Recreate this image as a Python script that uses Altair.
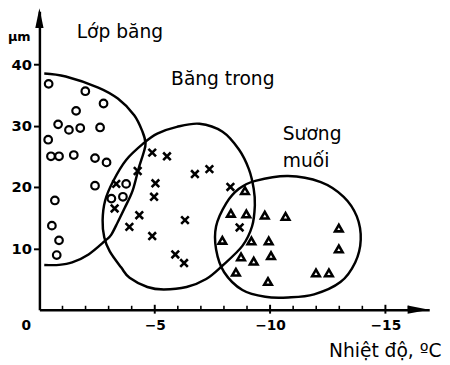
import altair as alt
import pandas as pd

# ---- data (temperature in °C, size in µm) ----
# Lớp băng (circles)
circle_t = [-0.40, -1.99, -2.78, -1.59, -0.81, -1.28, -1.77, -2.63, -0.38, -0.50, -0.85,
            -1.49, -2.41, -2.91, -2.41, -0.67, -0.54, -0.85, -0.75, -3.76, -3.12, -3.62]
circle_d = [36.8, 35.6, 33.6, 32.4, 30.2, 29.3, 29.6, 29.7, 27.7, 25.0, 25.0,
            25.2, 24.7, 24.0, 20.2, 17.8, 13.7, 11.3, 8.9, 20.5, 18.1, 18.4]
# Băng trong (crosses)
cross_t = [-4.89, -5.53, -4.26, -5.03, -4.97, -3.33, -3.26, -4.33, -3.90, -4.89, -6.31,
           -6.74, -7.37, -5.89, -6.27, -8.28, -8.68]
cross_d = [25.6, 25.0, 22.6, 20.6, 18.4, 20.5, 16.5, 15.4, 13.5, 12.0, 14.6,
           22.1, 22.9, 9.0, 7.6, 20.0, 13.4]
# Sương muối (triangles)
tri_t = [-8.91, -8.30, -8.97, -9.77, -10.67, -12.98, -7.93, -9.19, -9.94, -12.98, -8.74,
         -10.04, -9.29, -8.52, -9.91, -11.99, -12.55]
tri_d = [19.4, 15.7, 15.6, 15.4, 15.2, 13.3, 11.3, 11.2, 11.2, 9.9, 8.6,
         8.8, 7.9, 6.1, 4.6, 6.0, 6.0]

# outlines of the three groups
e1_t = [-0.21, -1.14, -2.55, -3.40, -4.11, -4.47, -4.60, -4.51, -4.30, -4.04, -3.70,
        -3.40, -3.11, -2.84, -2.13, -1.42, -0.85, -0.21]
e1_d = [38.5, 38.0, 36.2, 34.4, 31.7, 29.0, 27.1, 25.5, 23.0, 19.4, 16.6,
        14.3, 12.2, 11.2, 9.0, 7.7, 7.3, 7.3]
e2_t = [-6.94, -7.94, -8.65, -9.08, -9.29, -9.34, -9.22, -8.80, -7.94, -7.23, -6.38,
        -5.39, -4.68, -3.91, -3.54, -3.05, -2.81, -2.74, -2.85, -3.19, -3.76, -4.54,
        -5.11, -5.96]
e2_d = [30.3, 29.0, 26.1, 22.9, 19.7, 17.0, 13.6, 10.4, 7.2, 5.0, 3.7,
        3.3, 3.7, 5.2, 6.9, 9.5, 11.8, 14.6, 17.8, 20.9, 24.4, 27.2,
        28.7, 29.8]
e3_t = [-9.36, -10.78, -12.20, -13.19, -13.76, -13.93, -13.69, -13.05, -11.91, -10.78,
        -9.79, -8.80, -8.01, -7.66, -7.66, -8.09, -8.65]
e3_d = [21.0, 21.8, 20.8, 18.4, 15.2, 11.4, 7.7, 4.5, 2.5, 2.0,
        2.1, 3.2, 6.1, 9.8, 13.6, 17.3, 19.7]

# group labels
center_text = ["Lớp băng", "Băng trong"]
center_t = [-3.49, -7.95]
center_d = [44.3, 36.6]
left_text = ["Sương", "muối"]
left_t = [-10.55, -10.55]
left_d = [27.6, 23.3]

x_ticks = [0, -5, -10, -15]
y_ticks = [10, 20, 30, 40]
minor_ticks = [-1, -2, -3, -4, -6, -7, -8, -9, -11, -12, -13, -14, -16]
major_ticks = [-5, -10, -15]
X_MIN, Y_MAX = -16.9, 48.64

FONT = "DejaVu Sans"

xs = alt.Scale(domain=[X_MIN, 0], reverse=True, nice=False, zero=False)
ys = alt.Scale(domain=[0, Y_MAX], nice=False, zero=False)

x_axis = alt.Axis(
    values=x_ticks, grid=False, ticks=False, domainColor="black", domainWidth=2.5,
    labelExpr="datum.value == 0 ? '0' : '\u2212' + abs(datum.value)",
    labelFont=FONT, labelFontWeight="bold", labelFontSize=14, labelColor="black",
    labelPadding=9, labelFlush=False,
    labelOffset={"condition": {"test": "datum.value === 0", "value": -14}, "value": 0},
    title="Nhiệt độ, ºC", titleFont=FONT, titleFontSize=19, titleFontWeight="normal",
    titleColor="black", titleAlign="right", titleAnchor="end", titleBaseline="alphabetic",
    titleX=409, titleY=48,
)
y_axis = alt.Axis(
    values=y_ticks, grid=False, tickSize=6, tickWidth=2, tickColor="black",
    domainColor="black", domainWidth=2.5,
    labelFont=FONT, labelFontWeight="bold", labelFontSize=15, labelColor="black",
    labelPadding=2,
    title="µm", titleFont=FONT, titleFontSize=13, titleFontWeight="bold", titleColor="black",
    titleAngle=0, titleAlign="center", titleBaseline="alphabetic", titleX=-21, titleY=30,
)


def X():
    return alt.X("t:Q", scale=xs, axis=x_axis)


def Y():
    return alt.Y("d:Q", scale=ys, axis=y_axis)


circles = pd.DataFrame({"t": circle_t, "d": circle_d})
crosses = pd.DataFrame({"t": cross_t, "d": cross_d})
tris = pd.DataFrame({"t": tri_t, "d": tri_d})


def outline(ts, ds):
    return pd.DataFrame({"t": ts, "d": ds, "i": list(range(len(ts)))})


circle_layer = alt.Chart(circles).mark_point(
    shape="circle", filled=False, stroke="black", strokeWidth=2.2, size=60, opacity=1
).encode(x=X(), y=Y())

cross_layer = alt.Chart(crosses).mark_point(
    shape="M-1,-1L1,1M-1,1L1,-1", filled=False, stroke="black", strokeWidth=2.6,
    size=60, opacity=1
).encode(x=X(), y=Y())

tri_layer = alt.Chart(tris).mark_point(
    shape="triangle-up", filled=True, fill="white", stroke="black", strokeWidth=2.6,
    size=60, opacity=1
).encode(x=X(), y=Y())

e1 = alt.Chart(outline(e1_t, e1_d)).mark_line(
    color="black", strokeWidth=2.5, interpolate="cardinal"
).encode(x=X(), y=Y(), order="i:Q")
e2 = alt.Chart(outline(e2_t, e2_d)).mark_line(
    color="black", strokeWidth=2.5, interpolate="cardinal-closed"
).encode(x=X(), y=Y(), order="i:Q")
e3 = alt.Chart(outline(e3_t, e3_d)).mark_line(
    color="black", strokeWidth=2.5, interpolate="cardinal-closed"
).encode(x=X(), y=Y(), order="i:Q")

labels_c = alt.Chart(pd.DataFrame({"txt": center_text, "t": center_t, "d": center_d})).mark_text(
    font=FONT, fontSize=19, color="black", baseline="alphabetic", align="center"
).encode(x=X(), y=Y(), text="txt:N")
labels_l = alt.Chart(pd.DataFrame({"txt": left_text, "t": left_t, "d": left_d})).mark_text(
    font=FONT, fontSize=19, color="black", baseline="alphabetic", align="left"
).encode(x=X(), y=Y(), text="txt:N")

minor = alt.Chart(pd.DataFrame({"t": minor_ticks})).mark_rule(
    color="black", strokeWidth=1.6
).encode(x=X(), y=alt.value(304), y2=alt.value(300))
major = alt.Chart(pd.DataFrame({"t": major_ticks})).mark_rule(
    color="black", strokeWidth=2
).encode(x=X(), y=alt.value(308), y2=alt.value(299))

arrow_up = alt.Chart(pd.DataFrame({"t": [0.0], "d": [Y_MAX]})).mark_point(
    shape="M0,-1L0.42,1L-0.42,1Z", filled=True, color="black", size=400, opacity=1,
    yOffset=7
).encode(x=X(), y=Y())
arrow_right = alt.Chart(pd.DataFrame({"t": [X_MIN], "d": [0.0]})).mark_point(
    shape="M1,0L-1,0.38L-1,-0.38Z", filled=True, color="black", size=484, opacity=1,
    xOffset=-11
).encode(x=X(), y=Y())

chart = alt.layer(
    circle_layer, e1, e2, e3, cross_layer, tri_layer, labels_c, labels_l, minor, major,
    arrow_up, arrow_right
).properties(
    width=397, height=304, autosize="none",
    padding={"left": 32, "top": 0, "right": 13, "bottom": 50},
    background="white",
).configure_view(stroke=None)

chart.save("out.html", embed_options={"renderer": "svg", "actions": False})
